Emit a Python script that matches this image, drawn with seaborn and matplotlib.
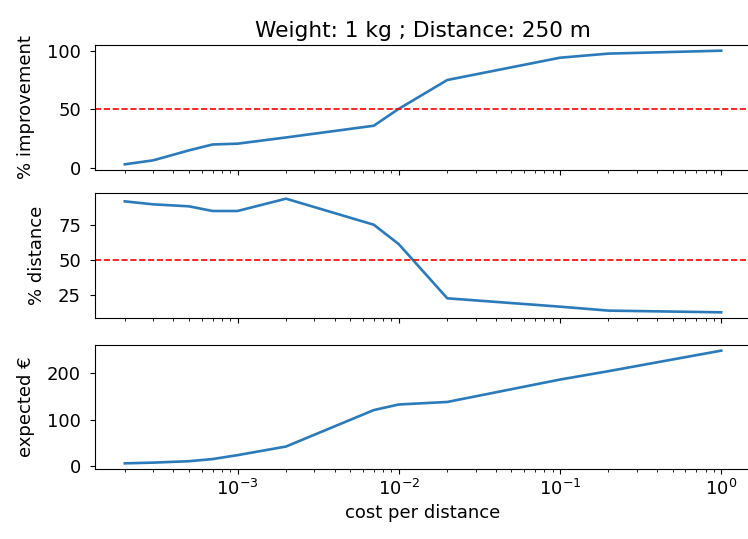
import matplotlib
matplotlib.use("Agg")
import matplotlib.pyplot as plt
import seaborn as sns
import numpy as np
import pandas as pd

# cost per distance values swept
cost_per_distance = [2e-4, 3e-4, 5e-4, 7e-4, 1e-3, 2e-3, 7e-3, 1e-2, 2e-2, 1e-1, 2e-1, 1.0]

# outcome series
pct_improvement = [3.1, 6.5, 15.0, 20.0, 20.7, 26.0, 36.0, 50.4, 75.0, 94.0, 97.5, 100.0]
pct_distance = [91.5, 89.4, 88.0, 84.7, 84.7, 93.4, 75.0, 61.3, 23.0, 17.1, 14.3, 13.1]
expected_eur = [6.4, 8.0, 11.0, 15.6, 24.0, 42.5, 120.6, 132.6, 138.0, 186.0, 204.0, 248.0]

title = "Weight: 1 kg ; Distance: 250 m"
ylabels = ["% improvement", "% distance", "expected €"]
xlabel = "cost per distance"

df = pd.DataFrame({
    "cost": cost_per_distance,
    "improvement": pct_improvement,
    "distance": pct_distance,
    "expected": expected_eur,
})

plt.rcParams["font.size"] = 13
plt.rcParams["font.family"] = ["DejaVu Sans"]
plt.rcParams["ytick.major.pad"] = 6.5

W, H = 748, 539
fig, axes = plt.subplots(3, 1, sharex=True, figsize=(W / 100, H / 100), dpi=100)

# axes boxes in pixel units: (left, top, right, bottom)
boxes = [(95, 45, 751, 170), (95, 193, 751, 318), (95, 345, 751, 469)]
for ax, (l, t, r, b) in zip(axes, boxes):
    ax.set_position([l / W, 1 - b / H, (r - l) / W, (b - t) / H])

line_color = "#2b7bba"
for ax, col, lab in zip(axes, ["improvement", "distance", "expected"], ylabels):
    sns.lineplot(data=df, x="cost", y=col, ax=ax, color=line_color, linewidth=1.9)
    ax.set_ylabel(lab, labelpad=9)
    ax.set_xlabel("")

axes[0].axhline(50, color="red", linestyle="--", linewidth=1.2)
axes[1].axhline(50, color="red", linestyle="--", linewidth=1.2)

axes[0].set_yticks([0, 50, 100])
axes[1].set_yticks([25, 50, 75])
axes[2].set_yticks([0, 100, 200])

axes[2].set_xscale("log")
axes[2].set_xlabel(xlabel)
axes[0].set_title(title)

fig.savefig("out.png", dpi=100)
